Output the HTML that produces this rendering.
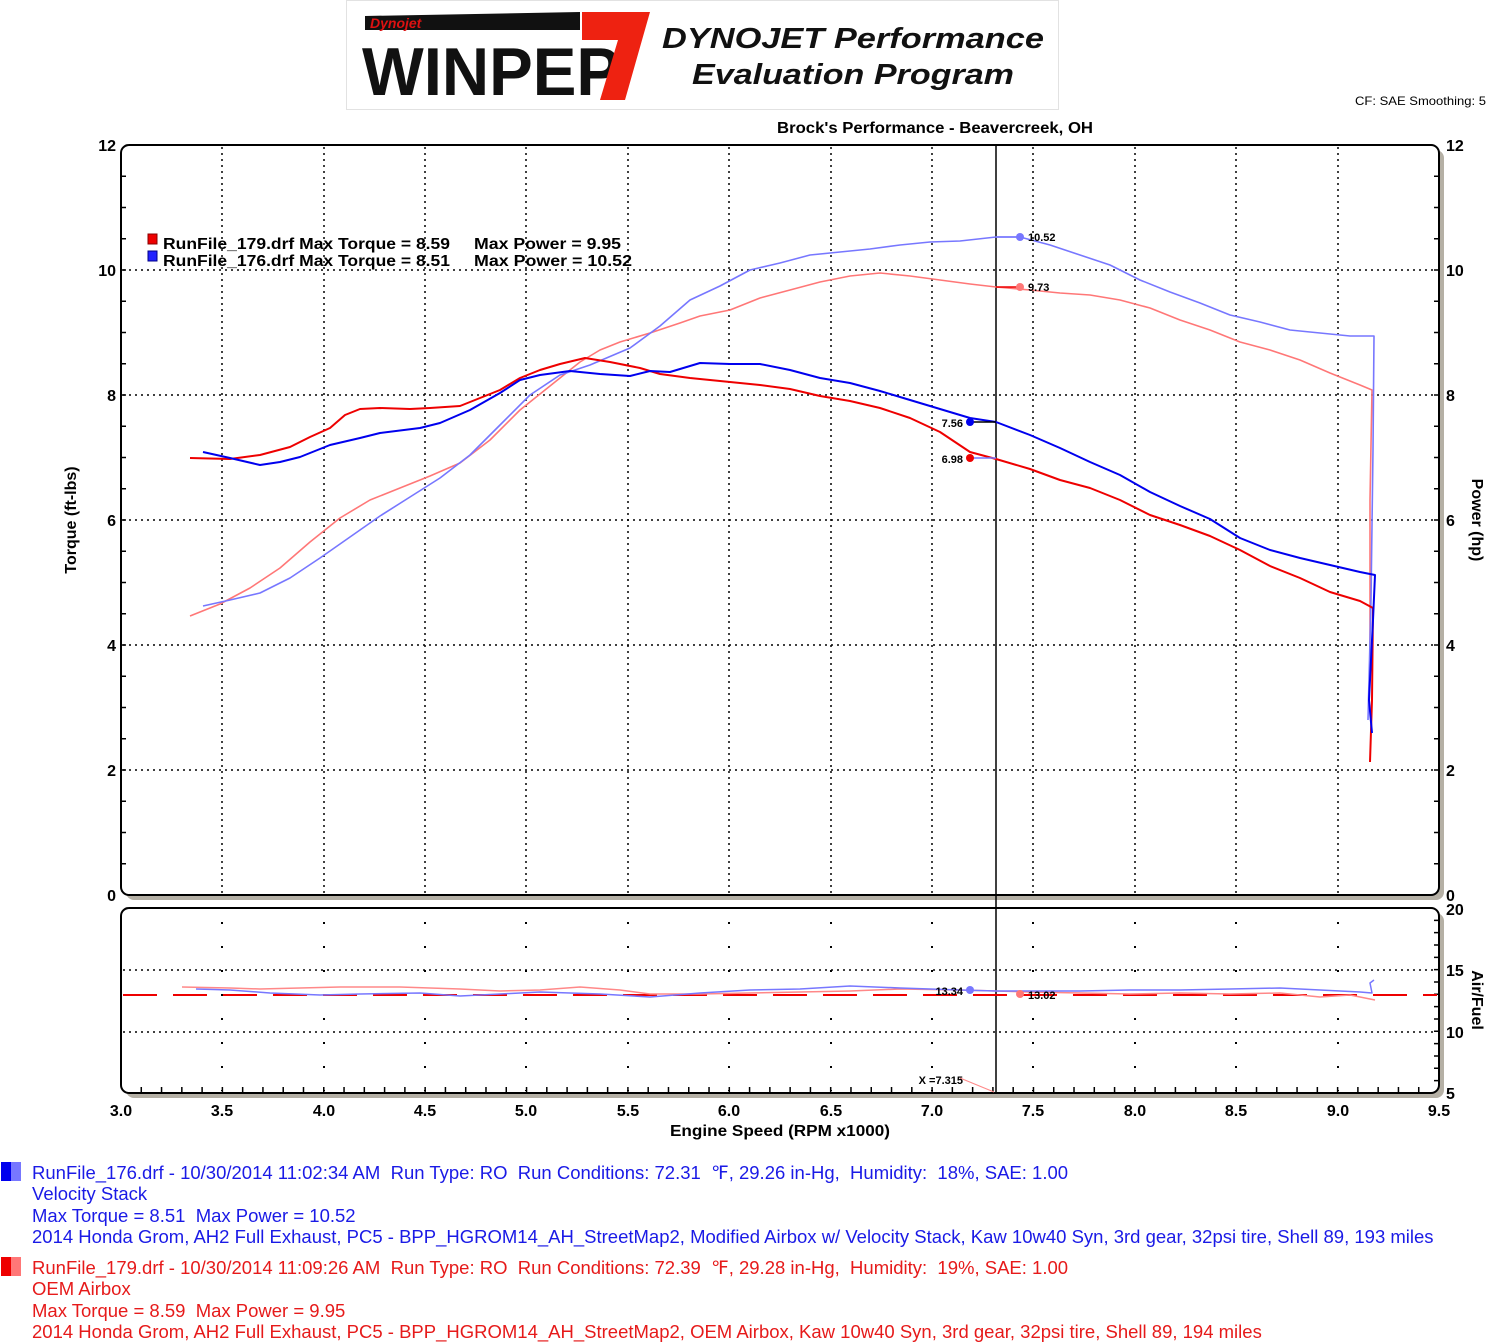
<!DOCTYPE html>
<html><head><meta charset="utf-8"><style>
body{margin:0;background:#fff;width:1500px;height:1344px;overflow:hidden;font-family:"Liberation Sans",Arial,sans-serif}
.ft{position:absolute;left:32px;font-size:18.5px;line-height:21.3px;white-space:pre}
</style></head><body>
<svg width="1500" height="1344" style="position:absolute;left:0;top:0" font-family="Liberation Sans, Arial, sans-serif">
<rect x="346.5" y="0.5" width="712" height="109" fill="#fff" stroke="#e2e2e2"/>
<polygon points="365,16 580,12 580,30 365,30" fill="#111"/>
<text x="370" y="28" font-size="14" font-style="italic" font-weight="bold" fill="#d11">Dynojet</text>
<text x="362" y="95" font-size="68" font-weight="bold" fill="#111" textLength="258" lengthAdjust="spacingAndGlyphs">WINPEP</text>
<polygon points="582,12 650,12 625,100 600,100 618,40 582,40" fill="#e21"/>
<text x="662" y="48" font-size="29" font-weight="bold" font-style="italic" fill="#111" textLength="382" lengthAdjust="spacingAndGlyphs">DYNOJET Performance</text>
<text x="692" y="84" font-size="29" font-weight="bold" font-style="italic" fill="#111" textLength="322" lengthAdjust="spacingAndGlyphs">Evaluation Program</text>
<text x="1355" y="105" font-size="12" textLength="131" lengthAdjust="spacingAndGlyphs">CF: SAE  Smoothing: 5</text>
<text x="777" y="133" font-size="16" font-weight="bold" textLength="316" lengthAdjust="spacingAndGlyphs">Brock's Performance - Beavercreek, OH</text>
<rect x="126" y="150" width="1318" height="750" rx="8" fill="#b5b0a5"/>
<rect x="126" y="913" width="1318" height="185" rx="8" fill="#b5b0a5"/>
<rect x="121" y="145" width="1318" height="750" rx="8" fill="#fff" stroke="#000" stroke-width="2"/>
<rect x="121" y="908" width="1318" height="185" rx="8" fill="#fff" stroke="#000" stroke-width="2"/>
<g stroke="#000" stroke-width="1.5" stroke-dasharray="2,4">
<path d="M222,147V893M324,147V893M425,147V893M526,147V893M628,147V893M729,147V893M831,147V893M932,147V893M1033,147V893M1135,147V893M1236,147V893M1338,147V893"/>
<path d="M123,270H1437M123,395H1437M123,520H1437M123,645H1437M123,770H1437"/>
<path d="M123,970H1437M123,1032H1437"/>
</g>
<g stroke="#000" stroke-width="2" stroke-dasharray="2,22" stroke-dashoffset="-12">
<path d="M222,910V1091M324,910V1091M425,910V1091M526,910V1091M628,910V1091M729,910V1091M831,910V1091M932,910V1091M1033,910V1091M1135,910V1091M1236,910V1091M1338,910V1091"/>
</g>
<g stroke="#000" stroke-width="1.5" id="tk"></g>
<line x1="996" y1="145" x2="996" y2="1093" stroke="#000" stroke-width="1.5"/>
<g font-size="16" font-weight="bold">
<text x="116" y="151" text-anchor="end">12</text><text x="116" y="276" text-anchor="end">10</text><text x="116" y="401" text-anchor="end">8</text><text x="116" y="526" text-anchor="end">6</text><text x="116" y="651" text-anchor="end">4</text><text x="116" y="776" text-anchor="end">2</text><text x="116" y="901" text-anchor="end">0</text>
<text x="1446" y="151">12</text><text x="1446" y="276">10</text><text x="1446" y="401">8</text><text x="1446" y="526">6</text><text x="1446" y="651">4</text><text x="1446" y="776">2</text><text x="1446" y="901">0</text>
<text x="1446" y="915">20</text><text x="1446" y="976">15</text><text x="1446" y="1038">10</text><text x="1446" y="1099">5</text>
<g text-anchor="middle"><text x="121" y="1116">3.0</text><text x="222" y="1116">3.5</text><text x="324" y="1116">4.0</text><text x="425" y="1116">4.5</text><text x="526" y="1116">5.0</text><text x="628" y="1116">5.5</text><text x="729" y="1116">6.0</text><text x="831" y="1116">6.5</text><text x="932" y="1116">7.0</text><text x="1033" y="1116">7.5</text><text x="1135" y="1116">8.0</text><text x="1236" y="1116">8.5</text><text x="1338" y="1116">9.0</text><text x="1439" y="1116">9.5</text></g>
<text x="670" y="1136" textLength="220" lengthAdjust="spacingAndGlyphs">Engine Speed (RPM x1000)</text>
<text transform="translate(76,520) rotate(-90)" text-anchor="middle">Torque (ft-lbs)</text>
<text transform="translate(1472,520) rotate(90)" text-anchor="middle">Power (hp)</text>
<text transform="translate(1472,1000) rotate(90)" text-anchor="middle">Air/Fuel</text>
</g>
<rect x="148" y="234" width="9" height="10" fill="#e00" stroke="#800"/>
<rect x="148" y="251" width="9" height="10" fill="#22f" stroke="#008"/>
<g font-size="16" font-weight="bold"><text x="163" y="249" textLength="287" lengthAdjust="spacingAndGlyphs">RunFile_179.drf Max Torque = 8.59</text><text x="474" y="249" textLength="147" lengthAdjust="spacingAndGlyphs">Max Power = 9.95</text>
<text x="163" y="266" textLength="287" lengthAdjust="spacingAndGlyphs">RunFile_176.drf Max Torque = 8.51</text><text x="474" y="266" textLength="158" lengthAdjust="spacingAndGlyphs">Max Power = 10.52</text></g>
<g fill="none" stroke-width="2" stroke-linejoin="round">
<polyline stroke="#f77" stroke-width="1.6" points="190,616 220,604 250,588 280,568 310,542 340,518 370,500 400,488 430,476 460,463 490,440 520,410 550,386 580,362 600,350 620,342 650,333 680,323 700,316 730,310 760,298 790,290 820,282 850,276 880,273 910,276 940,280 970,284 996,287 1030,290 1060,293 1090,295 1120,300 1150,308 1180,320 1210,330 1240,342 1270,350 1300,360 1330,373 1360,385 1372,390 1370,500 1370,660"/>
<polyline stroke="#77f" stroke-width="1.6" points="203,606 230,600 260,593 290,578 320,558 350,537 380,516 410,497 440,478 470,455 500,425 530,395 560,375 590,365 630,348 660,326 690,300 720,286 750,270 780,263 810,255 840,252 870,249 900,245 930,242 960,241 996,237 1020,237 1050,245 1080,255 1110,265 1140,280 1170,292 1200,303 1230,315 1260,322 1290,330 1320,333 1350,336 1374,336 1373,450 1371,600 1368,720"/>
<polyline stroke="#e00" points="190,458 230,459 260,455 290,447 310,437 330,428 345,415 360,409 380,408 410,409 430,408 460,406 480,398 500,390 520,378 540,370 560,364 585,358 610,362 640,368 660,374 690,378 720,381 760,385 790,389 820,396 850,401 880,408 910,418 940,432 970,452 996,459 1030,469 1060,480 1090,488 1120,500 1150,515 1180,525 1210,536 1240,550 1270,566 1300,578 1330,592 1360,601 1373,608 1372,700 1370,762"/>
<polyline stroke="#00e" points="203,452 230,458 260,465 280,462 300,457 330,445 360,438 380,433 420,428 440,423 470,410 500,393 520,380 540,375 570,371 600,374 630,376 650,371 670,372 700,363 730,364 760,364 790,370 820,378 850,383 880,391 910,400 940,409 970,418 996,422 1030,435 1060,448 1090,462 1120,475 1150,492 1180,506 1210,519 1240,538 1270,550 1300,558 1330,565 1360,572 1375,575 1373,620 1369,700 1372,733"/>
<line x1="123" y1="995" x2="1437" y2="995" stroke="#e00" stroke-dasharray="34,16"/>
<polyline stroke="#f88" stroke-width="1.5" points="182,987 230,988 260,989 300,988 340,987 400,987 460,989 500,991 540,990 580,987 620,990 650,994 700,994 750,993 800,992 850,991 900,989 960,990 996,991 1030,992 1080,993 1130,994 1180,993 1230,994 1280,993 1320,997 1350,995 1375,1000"/>
<polyline stroke="#77f" stroke-width="1.5" points="196,989 230,990 270,993 320,995 360,994 420,993 460,996 500,994 540,992 600,994 650,997 700,993 750,990 800,989 850,986 900,988 960,990 996,991 1030,991 1080,991 1130,990 1180,990 1230,989 1280,988 1320,990 1360,992 1372,993 1370,983 1374,980"/>
<polyline stroke="#f88" stroke-width="1" points="960,1078 994,1092"/>
</g>
<g stroke-width="1.5"><line x1="970" y1="422" x2="996" y2="422" stroke="#000"/><line x1="970" y1="458" x2="996" y2="458" stroke="#77f"/><line x1="996" y1="237" x2="1020" y2="237" stroke="#77f"/><line x1="996" y1="287" x2="1020" y2="287" stroke="#e00"/></g>
<circle cx="970" cy="422" r="4" fill="#00e"/><circle cx="970" cy="458" r="4" fill="#e00"/><circle cx="1020" cy="237" r="4" fill="#77f"/><circle cx="1020" cy="287" r="4" fill="#f77"/>
<circle cx="970" cy="990" r="4" fill="#77f"/><circle cx="1020" cy="994" r="4" fill="#f77"/>
<g font-size="11" font-weight="bold"><text x="963" y="427" text-anchor="end">7.56</text><text x="963" y="463" text-anchor="end">6.98</text><text x="1028" y="241">10.52</text><text x="1028" y="291">9.73</text>
<text x="963" y="995" text-anchor="end">13.34</text><text x="1028" y="999">13.02</text><text x="963" y="1084" text-anchor="end">X =7.315</text></g>
<rect x="1" y="1162" width="20" height="19" fill="#00e"/><rect x="11" y="1162" width="10" height="19" fill="#77f"/>
<rect x="1" y="1257" width="20" height="19" fill="#e00"/><rect x="11" y="1257" width="10" height="19" fill="#f77"/>
</svg>
<div class="ft" style="top:1162px;color:#1a1ae6">RunFile_176.drf - 10/30/2014 11:02:34 AM  Run Type: RO  Run Conditions: 72.31  ℉, 29.26 in-Hg,  Humidity:  18%, SAE: 1.00
Velocity Stack
Max Torque = 8.51  Max Power = 10.52
2014 Honda Grom, AH2 Full Exhaust, PC5 - BPP_HGROM14_AH_StreetMap2, Modified Airbox w/ Velocity Stack, Kaw 10w40 Syn, 3rd gear, 32psi tire, Shell 89, 193 miles</div>
<div class="ft" style="top:1257px;color:#e61a1a">RunFile_179.drf - 10/30/2014 11:09:26 AM  Run Type: RO  Run Conditions: 72.39  ℉, 29.28 in-Hg,  Humidity:  19%, SAE: 1.00
OEM Airbox
Max Torque = 8.59  Max Power = 9.95
2014 Honda Grom, AH2 Full Exhaust, PC5 - BPP_HGROM14_AH_StreetMap2, OEM Airbox, Kaw 10w40 Syn, 3rd gear, 32psi tire, Shell 89, 194 miles</div>
<script>
var g=document.getElementById('tk'),d='';
for(var i=1;i<24;i++){var y=145+i*31.25;d+='M121,'+y+'h5M1439,'+y+'h-5';}
for(var i=1;i<15;i++){var y=908+i*12.33;d+='M1439,'+y+'h-5';}
for(var i=1;i<65;i++){var x=121+i*20.277;d+='M'+x+',1093v-6';}
var p=document.createElementNS('http://www.w3.org/2000/svg','path');p.setAttribute('d',d);g.appendChild(p);
</script>
</body></html>
